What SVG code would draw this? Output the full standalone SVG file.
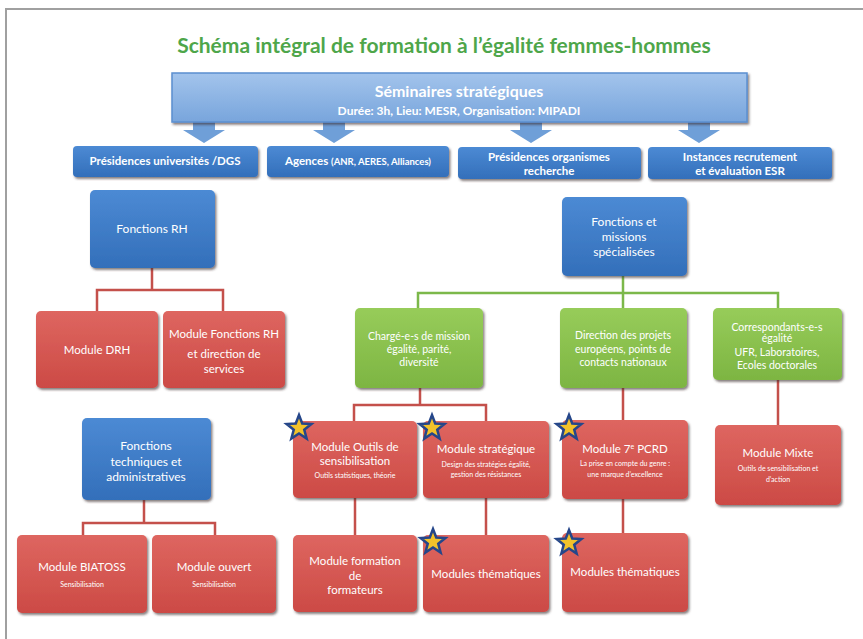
<svg xmlns="http://www.w3.org/2000/svg" xmlns:xlink="http://www.w3.org/1999/xlink" width="863" height="639" viewBox="0 0 863 639">
<style>
text{font-family:Lato,"Liberation Sans",sans-serif;fill:#fff;text-anchor:middle}
.title{fill:#4ea64a;font-size:21px;font-weight:bold}
.hb{font-size:11.5px;font-weight:bold}
.bt{font-size:12px}
.mt{font-size:11.5px}
.sm{font-size:7px}
.gt{font-size:10.5px}
.red{fill:url(#gR);filter:url(#sh)}
.blue{fill:url(#gB);filter:url(#sh)}
.green{fill:url(#gG);filter:url(#sh)}
.lr{stroke:#c4504b;stroke-width:2.5;fill:none}
.lg{stroke:#7cb84a;stroke-width:2.5;fill:none}
.star{fill:#f2c22a;stroke:#25468a;stroke-width:2.5;stroke-linejoin:miter}
.arr{fill:#6f9fd8}
</style>
<defs>
<linearGradient id="gR" x1="0" y1="0" x2="0" y2="1"><stop offset="0" stop-color="#de6660"/><stop offset="1" stop-color="#cc4a45"/></linearGradient>
<linearGradient id="gB" x1="0" y1="0" x2="0" y2="1"><stop offset="0" stop-color="#4c8ad4"/><stop offset="1" stop-color="#336fba"/></linearGradient>
<linearGradient id="gG" x1="0" y1="0" x2="0" y2="1"><stop offset="0" stop-color="#97cc5a"/><stop offset="1" stop-color="#7db542"/></linearGradient>
<linearGradient id="gT" x1="0" y1="0" x2="0" y2="1"><stop offset="0" stop-color="#a3c4ec"/><stop offset="1" stop-color="#78a5dc"/></linearGradient>
<filter id="sh" x="-10%" y="-10%" width="125%" height="130%"><feDropShadow dx="1.5" dy="2" stdDeviation="1.2" flood-color="#3a2a2a" flood-opacity="0.6"/></filter>
<path id="star" class="star" d="M0,-13 L3.23,-4.45 L12.36,-4.02 L5.23,1.7 L7.64,10.52 L0,5.5 L-7.64,10.52 L-5.23,1.7 L-12.36,-4.02 L-3.23,-4.45 Z"/>
</defs>
<rect width="863" height="639" fill="#fff"/>
<path d="M6,639 V9 H863" fill="none" stroke="#a0a0a0" stroke-width="2"/>
<text class="title" x="444" y="53">Schéma intégral de formation à l’égalité femmes-hommes</text>

<g id="connectors">
<path class="arr" d="M193,122 h22 v8 h10 l-21,13 l-21,-13 h10 z"/>
<path class="arr" d="M323,122 h22 v8 h10 l-21,13 l-21,-13 h10 z"/>
<path class="arr" d="M520,122 h22 v8 h10 l-21,13 l-21,-13 h10 z"/>
<path class="arr" d="M688,122 h22 v8 h10 l-21,13 l-21,-13 h10 z"/>
<path class="lr" d="M152,268 V290 M97,311 V290 H223 V311"/>
<path class="lr" d="M144,500 V523 M83,535 V523 H215 V535"/>
<path class="lr" d="M420,388 V405 M354,421 V405 H486 V421"/>
<path class="lr" d="M355,498 V535 M486,498 V535"/>
<path class="lr" d="M623,388 V420 M623,499 V533"/>
<path class="lr" d="M778,380 V425"/>
<path class="lg" d="M623,276 V308 M418,308 V293 H778 V308"/>
</g>

<g id="seminaires">
<rect x="172" y="73" width="575" height="49" fill="url(#gT)" stroke="#5b8fd0" stroke-width="1.5" filter="url(#sh)"/>
<text x="459" y="97" style="font-size:16px;font-weight:bold">Séminaires stratégiques</text>
<text x="459" y="115" style="font-size:12px;font-weight:bold">Durée: 3h, Lieu: MESR, Organisation: MIPADI</text>
</g>

<g id="presidences-univ">
<rect class="blue" x="73" y="146" width="185" height="31" rx="4"/>
<text class="hb" x="165" y="165">Présidences universités /DGS</text>
</g>
<g id="agences">
<rect class="blue" x="267" y="146" width="182" height="31" rx="4"/>
<text class="hb" x="358" y="165">Agences <tspan style="font-size:9.5px">(ANR, AERES, Alliances)</tspan></text>
</g>
<g id="presidences-org">
<rect class="blue" x="458" y="147" width="183" height="32" rx="4"/>
<text class="hb" x="549" y="161">Présidences organismes</text>
<text class="hb" x="549" y="175">recherche</text>
</g>
<g id="instances">
<rect class="blue" x="648" y="147" width="184" height="32" rx="4"/>
<text class="hb" x="740" y="161">Instances recrutement</text>
<text class="hb" x="740" y="175">et évaluation ESR</text>
</g>

<g id="fonctions-rh">
<rect class="blue" x="90" y="190" width="125" height="78" rx="5"/>
<text class="bt" x="152" y="233">Fonctions RH</text>
</g>
<g id="fonctions-missions">
<rect class="blue" x="562" y="197" width="125" height="79" rx="5"/>
<text class="bt" x="624" y="226">Fonctions et</text>
<text class="bt" x="624" y="241">missions</text>
<text class="bt" x="624" y="256">spécialisées</text>
</g>
<g id="fonctions-techniques">
<rect class="blue" x="82" y="418" width="129" height="82" rx="5"/>
<text class="bt" x="146" y="450">Fonctions</text>
<text class="bt" x="146" y="466">techniques et</text>
<text class="bt" x="146" y="481">administratives</text>
</g>

<g id="module-drh">
<rect class="red" x="36" y="311" width="122" height="77" rx="5"/>
<text class="mt" x="97" y="354">Module DRH</text>
</g>
<g id="module-fonctions-rh">
<rect class="red" x="163" y="311" width="122" height="77" rx="5"/>
<text class="mt" x="224" y="338">Module Fonctions RH</text>
<text class="mt" x="224" y="358">et  direction de</text>
<text class="mt" x="224" y="373">services</text>
</g>

<g id="charges-mission">
<rect class="green" x="355" y="308" width="128" height="80" rx="5"/>
<text class="gt" x="419" y="340">Chargé-e-s de mission</text>
<text class="gt" x="419" y="353">égalité, parité,</text>
<text class="gt" x="419" y="366">diversité</text>
</g>
<g id="direction-projets">
<rect class="green" x="560" y="308" width="127" height="80" rx="5"/>
<text class="gt" x="623" y="339">Direction des projets</text>
<text class="gt" x="623" y="353">européens, points de</text>
<text class="gt" x="623" y="366">contacts nationaux</text>
</g>
<g id="correspondants">
<rect class="green" x="713" y="308" width="129" height="72" rx="5"/>
<text class="gt" x="777" y="331">Correspondants-e-s</text>
<text class="gt" x="777" y="342">égalité</text>
<text class="gt" x="777" y="356">UFR, Laboratoires,</text>
<text class="gt" x="777" y="369">Ecoles doctorales</text>
</g>

<g id="module-outils">
<rect class="red" x="293" y="421" width="124" height="77" rx="5"/>
<text class="mt" x="355" y="451">Module Outils de</text>
<text class="mt" x="355" y="465">sensibilisation</text>
<text class="sm" x="355" y="478">Outils statistiques, théorie</text>
<use xlink:href="#star" x="299" y="428"/>
</g>
<g id="module-strategique">
<rect class="red" x="423" y="421" width="126" height="77" rx="5"/>
<text class="mt" x="486" y="453">Module stratégique</text>
<text class="sm" x="486" y="467">Design des stratégies égalité,</text>
<text class="sm" x="486" y="477">gestion des résistances</text>
<use xlink:href="#star" x="432" y="428"/>
</g>
<g id="module-pcrd">
<rect class="red" x="562" y="420" width="126" height="79" rx="5"/>
<text class="mt" x="625" y="453">Module 7<tspan dy="-4" style="font-size:7px">e</tspan><tspan dy="4"> PCRD</tspan></text>
<text class="sm" x="625" y="466">La prise en compte du genre :</text>
<text class="sm" x="625" y="477">une marque d’excellence</text>
<use xlink:href="#star" x="569" y="428"/>
</g>
<g id="module-mixte">
<rect class="red" x="715" y="425" width="126" height="80" rx="5"/>
<text class="mt" x="778" y="457">Module  Mixte</text>
<text class="sm" x="778" y="471">Outils de sensibilisation et</text>
<text class="sm" x="778" y="482">d’action</text>
</g>

<g id="module-formateurs">
<rect class="red" x="293" y="535" width="124" height="77" rx="5"/>
<text class="mt" x="355" y="565">Module formation</text>
<text class="mt" x="355" y="580">de</text>
<text class="mt" x="355" y="594">formateurs</text>
</g>
<g id="modules-thematiques-1">
<rect class="red" x="423" y="535" width="126" height="77" rx="5"/>
<text class="mt" x="486" y="578">Modules thématiques</text>
<use xlink:href="#star" x="433" y="542"/>
</g>
<g id="modules-thematiques-2">
<rect class="red" x="562" y="533" width="126" height="79" rx="5"/>
<text class="mt" x="625" y="576">Modules thématiques</text>
<use xlink:href="#star" x="569" y="543"/>
</g>

<g id="module-biatoss">
<rect class="red" x="17" y="535" width="130" height="78" rx="5"/>
<text class="mt" x="82" y="571">Module BIATOSS</text>
<text class="sm" x="82" y="587">Sensibilisation</text>
</g>
<g id="module-ouvert">
<rect class="red" x="152" y="535" width="124" height="78" rx="5"/>
<text class="mt" x="214" y="571">Module ouvert</text>
<text class="sm" x="214" y="587">Sensibilisation</text>
</g>
</svg>
